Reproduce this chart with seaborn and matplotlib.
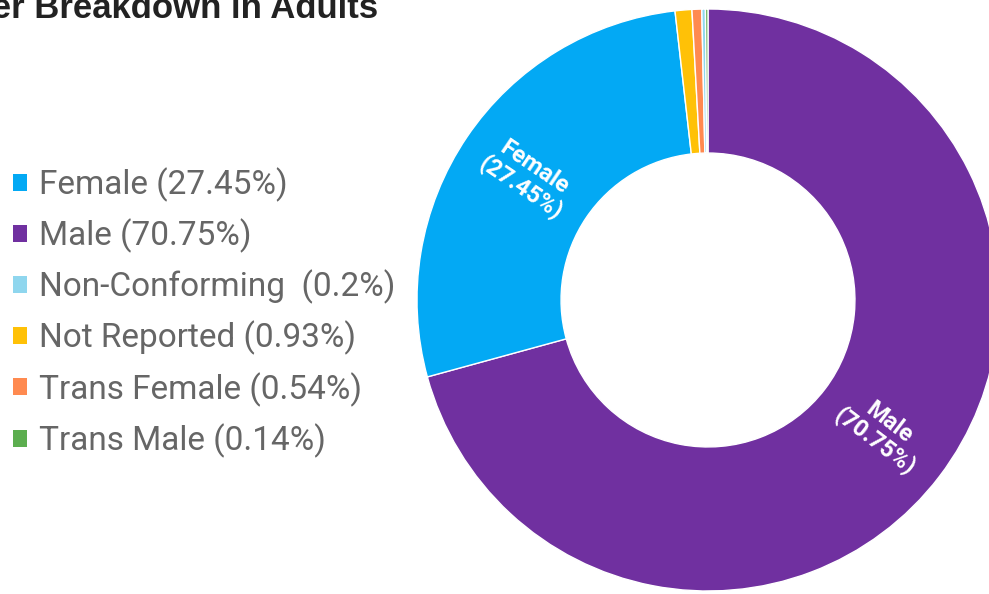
import numpy as np
import matplotlib
matplotlib.use("Agg")
import matplotlib.pyplot as plt
import seaborn as sns

# === DATA ===
categories = ["Female", "Male", "Non-Conforming", "Not Reported", "Trans Female", "Trans Male"]
shares = [27.45, 70.75, 0.2, 0.93, 0.54, 0.14]
legend_labels = ["Female (27.45%)", "Male (70.75%)", "Non-Conforming  (0.2%)",
                 "Not Reported (0.93%)", "Trans Female (0.54%)", "Trans Male (0.14%)"]
colors = ["#03a9f4", "#7030a0", "#8fd6ee", "#ffc107", "#ff8a50", "#5cae4f"]
# clockwise drawing order starting at 12 o'clock
pie_order = ["Male", "Female", "Not Reported", "Trans Female", "Non-Conforming", "Trans Male"]
labelled = ["Male", "Female"]

sns.set_theme(style="white")
plt.rcParams['font.family'] = ['Roboto', 'DejaVu Sans']

fig = plt.figure(figsize=(9.89, 5.94), dpi=100)
W, H = 989, 594
cx, cy, R = 708, 300, 291
ax = fig.add_axes([(cx - R) / W, (H - cy - R) / H, 2 * R / W, 2 * R / H])

idx = [categories.index(c) for c in pie_order]
wedges, _ = ax.pie([shares[i] for i in idx], colors=[colors[i] for i in idx],
                   startangle=90, counterclock=False, radius=1.0,
                   wedgeprops=dict(width=0.495, edgecolor="white", linewidth=1.0))
ax.set_xlim(-1, 1)
ax.set_ylim(-1, 1)
ax.set_aspect("equal")
ax.axis("off")

# radial labels inside the big slices
for w, name in zip(wedges, pie_order):
    if name not in labelled:
        continue
    ang = (w.theta1 + w.theta2) / 2
    r = 0.75
    x, y = r * np.cos(np.deg2rad(ang)), r * np.sin(np.deg2rad(ang))
    rot = ang if -90 <= ((ang + 180) % 360 - 180) <= 90 else ang - 180
    pct = shares[categories.index(name)]
    ax.text(x, y, f"{name}\n({pct}%)", color="white", fontsize=17, fontweight="bold",
            ha="center", va="center", rotation=rot, rotation_mode="anchor",
            linespacing=1.0)

# legend in alphabetical order
handles = [wedges[pie_order.index(c)] for c in categories]
leg = fig.legend(handles, legend_labels, loc="upper left", bbox_to_anchor=(0.0, 0.741),
                 frameon=False, fontsize=24, handlelength=0.4, handleheight=0.4,
                 handletextpad=0.36, labelspacing=0.5, borderaxespad=0)
for t in leg.get_texts():
    t.set_color("#666666")
for h in leg.legend_handles:
    h.set_edgecolor("none")

fig.text(378 / W, 1 - 18 / H, "Gender Breakdown in Adults", ha="right", va="baseline",
         fontsize=25, fontweight="bold", color="#222222", family=["Liberation Sans", "DejaVu Sans"])

fig.savefig("out.png", dpi=100)
